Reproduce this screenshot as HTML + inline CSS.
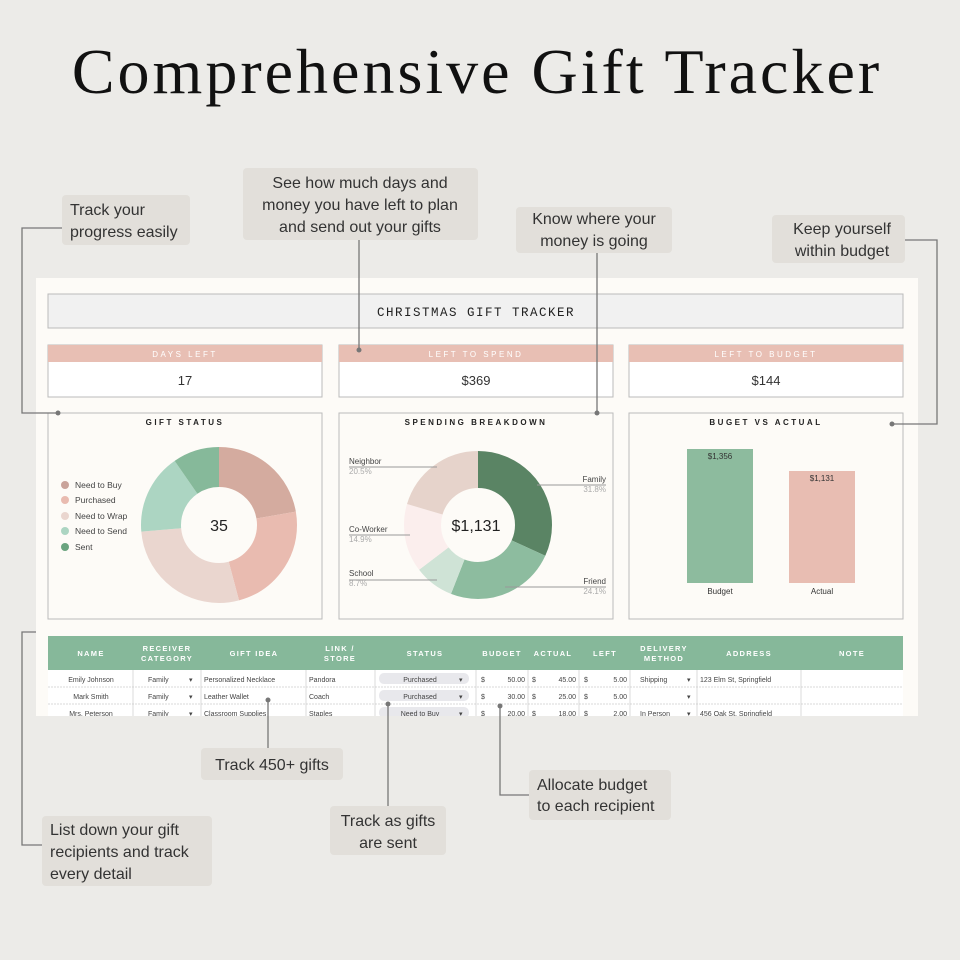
<!DOCTYPE html>
<html><head><meta charset="utf-8"><style>
body{margin:0;width:960px;height:960px;overflow:hidden;background:#ecebe8;}
svg{display:block}
.c{font-family:"Liberation Sans",sans-serif;}
</style></head><body>
<svg width="960" height="960" viewBox="0 0 960 960" class="c">
<rect width="960" height="960" fill="#ecebe8"/>
<text x="477" y="93" text-anchor="middle" font-family="Liberation Serif,serif" font-size="64" letter-spacing="3" fill="#111">Comprehensive Gift Tracker</text>

<!-- panel -->
<rect x="36" y="278" width="882" height="438" fill="#fdfbf7"/>
<rect x="48" y="294" width="855" height="34" fill="#f1f1f1" stroke="#bbb"/>
<text x="476" y="316" text-anchor="middle" font-size="12.5" letter-spacing="1.5" fill="#222" font-family="Liberation Mono,monospace">CHRISTMAS GIFT TRACKER</text>

<g font-size="8" letter-spacing="2.5" fill="#fff" text-anchor="middle">
<rect x="48" y="345" width="274" height="52" fill="#fff" stroke="#bbb"/><rect x="48" y="345" width="274" height="17" fill="#e8bfb4"/>
<text x="185" y="357">DAYS LEFT</text>
<rect x="339" y="345" width="274" height="52" fill="#fff" stroke="#bbb"/><rect x="339" y="345" width="274" height="17" fill="#e8bfb4"/>
<text x="476" y="357">LEFT TO SPEND</text>
<rect x="629" y="345" width="274" height="52" fill="#fff" stroke="#bbb"/><rect x="629" y="345" width="274" height="17" fill="#e8bfb4"/>
<text x="766" y="357">LEFT TO BUDGET</text>
</g>
<g font-size="13" fill="#333" text-anchor="middle">
<text x="185" y="385">17</text><text x="476" y="385">$369</text><text x="766" y="385">$144</text>
</g>

<g fill="#fdfbf7" stroke="#bbb">
<rect x="48" y="413" width="274" height="206"/>
<rect x="339" y="413" width="274" height="206"/>
<rect x="629" y="413" width="274" height="206"/>
</g>
<g font-size="8" letter-spacing="2.5" fill="#222" text-anchor="middle" font-weight="bold">
<text x="185" y="425">GIFT STATUS</text>
<text x="476" y="425">SPENDING BREAKDOWN</text>
<text x="766" y="425">BUGET VS ACTUAL</text>
</g>

<!-- gift status donut -->
<g transform="rotate(-90 219 525)" fill="none" stroke-width="40">
<circle cx="219" cy="525" r="58" stroke="#d4ab9f" stroke-dasharray="81 400" stroke-dashoffset="0"/>
<circle cx="219" cy="525" r="58" stroke="#e9bbb0" stroke-dasharray="86 400" stroke-dashoffset="-81"/>
<circle cx="219" cy="525" r="58" stroke="#ead6cf" stroke-dasharray="101 400" stroke-dashoffset="-167"/>
<circle cx="219" cy="525" r="58" stroke="#acd5c2" stroke-dasharray="61 400" stroke-dashoffset="-268"/>
<circle cx="219" cy="525" r="58" stroke="#86b99a" stroke-dasharray="35.4 400" stroke-dashoffset="-329"/>
</g>
<text x="219" y="531" text-anchor="middle" font-size="16" fill="#222">35</text>
<g font-size="8.5" fill="#444">
<circle cx="65" cy="485" r="4" fill="#c9a39a"/><text x="75" y="488">Need to Buy</text>
<circle cx="65" cy="500" r="4" fill="#e9bbb0"/><text x="75" y="503">Purchased</text>
<circle cx="65" cy="516" r="4" fill="#ead6cf"/><text x="75" y="519">Need to Wrap</text>
<circle cx="65" cy="531" r="4" fill="#acd5c2"/><text x="75" y="534">Need to Send</text>
<circle cx="65" cy="547" r="4" fill="#6aa47f"/><text x="75" y="550">Sent</text>
</g>

<!-- spending donut -->
<g transform="rotate(-90 478 525)" fill="none" stroke-width="37">
<circle cx="478" cy="525" r="55.5" stroke="#5a8464" stroke-dasharray="110.9 400" stroke-dashoffset="0"/>
<circle cx="478" cy="525" r="55.5" stroke="#8dbc9f" stroke-dasharray="84 400" stroke-dashoffset="-110.9"/>
<circle cx="478" cy="525" r="55.5" stroke="#cfe3d6" stroke-dasharray="30.3 400" stroke-dashoffset="-194.9"/>
<circle cx="478" cy="525" r="55.5" stroke="#fbeeed" stroke-dasharray="52 400" stroke-dashoffset="-225.2"/>
<circle cx="478" cy="525" r="55.5" stroke="#e6d3cb" stroke-dasharray="71.5 400" stroke-dashoffset="-277.2"/>
</g>
<text x="476" y="531" text-anchor="middle" font-size="16" fill="#222">$1,131</text>
<g font-size="8" fill="#444" stroke-width="1">
<text x="349" y="464">Neighbor</text><text x="349" y="474" fill="#aaa">20.5%</text>
<line x1="349" y1="467" x2="437" y2="467" stroke="#999"/>
<text x="349" y="532">Co-Worker</text><text x="349" y="542" fill="#aaa">14.9%</text>
<line x1="349" y1="535" x2="410" y2="535" stroke="#999"/>
<text x="349" y="576">School</text><text x="349" y="586" fill="#aaa">8.7%</text>
<line x1="349" y1="580" x2="437" y2="580" stroke="#999"/>
<text x="606" y="482" text-anchor="end">Family</text><text x="606" y="492" fill="#aaa" text-anchor="end">31.8%</text>
<line x1="537" y1="485" x2="606" y2="485" stroke="#999"/>
<text x="606" y="584" text-anchor="end">Friend</text><text x="606" y="594" fill="#aaa" text-anchor="end">24.1%</text>
<line x1="505" y1="587" x2="606" y2="587" stroke="#999"/>
</g>

<!-- bars -->
<rect x="687" y="449" width="66" height="134" fill="#8dbb9e"/>
<rect x="789" y="471" width="66" height="112" fill="#e8bdb2"/>
<g font-size="8" fill="#333" text-anchor="middle">
<text x="720" y="459">$1,356</text><text x="822" y="481">$1,131</text>
<text x="720" y="594">Budget</text><text x="822" y="594">Actual</text>
</g>

<!-- table -->
<rect x="48" y="636" width="855" height="34" fill="#86b89a"/>
<g font-size="7.5" font-weight="bold" fill="#fff" text-anchor="middle" letter-spacing="1.3">
<text x="91" y="656">NAME</text>
<text x="167" y="651">RECEIVER</text><text x="167" y="661">CATEGORY</text>
<text x="254" y="656">GIFT IDEA</text>
<text x="340" y="651">LINK /</text><text x="340" y="661">STORE</text>
<text x="425" y="656">STATUS</text>
<text x="502" y="656">BUDGET</text>
<text x="553" y="656">ACTUAL</text>
<text x="605" y="656">LEFT</text>
<text x="664" y="651">DELIVERY</text><text x="664" y="661">METHOD</text>
<text x="749" y="656">ADDRESS</text>
<text x="852" y="656">NOTE</text>
</g>
<rect x="48" y="670" width="855" height="46" fill="#fff"/>
<g stroke="#ccc" stroke-width="0.7">
<line x1="48" y1="687" x2="903" y2="687" stroke-dasharray="2 1"/><line x1="48" y1="704" x2="903" y2="704" stroke-dasharray="2 1"/>
<line x1="133" y1="670" x2="133" y2="716"/><line x1="201" y1="670" x2="201" y2="716"/><line x1="306" y1="670" x2="306" y2="716"/>
<line x1="375" y1="670" x2="375" y2="716"/><line x1="476" y1="670" x2="476" y2="716"/><line x1="528" y1="670" x2="528" y2="716"/>
<line x1="579" y1="670" x2="579" y2="716"/><line x1="630" y1="670" x2="630" y2="716"/><line x1="697" y1="670" x2="697" y2="716"/>
<line x1="801" y1="670" x2="801" y2="716"/>
</g>
<g fill="#e8e8ec"><rect x="379" y="673" width="90" height="11" rx="5"/><rect x="379" y="690" width="90" height="11" rx="5"/><rect x="379" y="707" width="90" height="11" rx="5"/></g>
<g font-size="7" fill="#444">
<text x="91" y="682" text-anchor="middle">Emily Johnson</text><text x="91" y="699" text-anchor="middle">Mark Smith</text><text x="91" y="716" text-anchor="middle">Mrs. Peterson</text>
<text x="148" y="682">Family</text><text x="148" y="699">Family</text><text x="148" y="716">Family</text>
<text x="189" y="682">▾</text><text x="189" y="699">▾</text><text x="189" y="716">▾</text>
<text x="204" y="682">Personalized Necklace</text><text x="204" y="699">Leather Wallet</text><text x="204" y="716">Classroom Supplies</text>
<text x="309" y="682">Pandora</text><text x="309" y="699">Coach</text><text x="309" y="716">Staples</text>
<text x="420" y="682" text-anchor="middle">Purchased</text><text x="420" y="699" text-anchor="middle">Purchased</text><text x="420" y="716" text-anchor="middle">Need to Buy</text>
<text x="459" y="682">▾</text><text x="459" y="699">▾</text><text x="459" y="716">▾</text>
<text x="481" y="682">$</text><text x="481" y="699">$</text><text x="481" y="716">$</text>
<text x="525" y="682" text-anchor="end">50.00</text><text x="525" y="699" text-anchor="end">30.00</text><text x="525" y="716" text-anchor="end">20.00</text>
<text x="532" y="682">$</text><text x="532" y="699">$</text><text x="532" y="716">$</text>
<text x="576" y="682" text-anchor="end">45.00</text><text x="576" y="699" text-anchor="end">25.00</text><text x="576" y="716" text-anchor="end">18.00</text>
<text x="584" y="682">$</text><text x="584" y="699">$</text><text x="584" y="716">$</text>
<text x="627" y="682" text-anchor="end">5.00</text><text x="627" y="699" text-anchor="end">5.00</text><text x="627" y="716" text-anchor="end">2.00</text>
<text x="640" y="682">Shipping</text><text x="640" y="716">In Person</text>
<text x="687" y="682">▾</text><text x="687" y="699">▾</text><text x="687" y="716">▾</text>
<text x="700" y="682">123 Elm St, Springfield</text><text x="700" y="716">456 Oak St, Springfield</text>
</g>
<rect x="0" y="716" width="960" height="244" fill="#ecebe8"/>

<!-- callout lines -->
<g stroke="#777" stroke-width="1.3" fill="none">
<polyline points="62,228 22,228 22,413 58,413"/>
<line x1="359" y1="240" x2="359" y2="350"/>
<line x1="597" y1="253" x2="597" y2="413"/>
<polyline points="905,240 937,240 937,424 892,424"/>
<line x1="268" y1="748" x2="268" y2="700"/>
<polyline points="529,795 500,795 500,706"/>
<line x1="388" y1="806" x2="388" y2="704"/>
<polyline points="42,845 22,845 22,632 36,632"/>
</g>
<g fill="#777"><circle cx="58" cy="413" r="2.5"/><circle cx="359" cy="350" r="2.5"/><circle cx="597" cy="413" r="2.5"/><circle cx="892" cy="424" r="2.5"/><circle cx="268" cy="700" r="2.5"/><circle cx="500" cy="706" r="2.5"/><circle cx="388" cy="704" r="2.5"/></g>

<!-- callouts -->
<g fill="#e2dfda">
<rect x="62" y="195" width="128" height="50" rx="4"/>
<rect x="243" y="168" width="235" height="72" rx="4"/>
<rect x="516" y="207" width="156" height="46" rx="4"/>
<rect x="772" y="215" width="133" height="48" rx="4"/>
<rect x="201" y="748" width="142" height="32" rx="4"/>
<rect x="529" y="770" width="142" height="50" rx="4"/>
<rect x="330" y="806" width="116" height="49" rx="4"/>
<rect x="42" y="816" width="170" height="70" rx="4"/>
</g>
<g font-size="16" fill="#333">
<text x="70" y="215">Track your</text><text x="70" y="237">progress easily</text>
<g text-anchor="middle"><text x="360" y="188">See how much days and</text><text x="360" y="210">money you have left to plan</text><text x="360" y="232">and send out your gifts</text>
<text x="594" y="224">Know where your</text><text x="594" y="246">money is going</text>
<text x="842" y="234">Keep yourself</text><text x="842" y="256">within budget</text>
<text x="272" y="770">Track 450+ gifts</text>
<text x="388" y="826">Track as gifts</text><text x="388" y="848">are sent</text></g>
<text x="537" y="790">Allocate budget</text><text x="537" y="811">to each recipient</text>
<text x="50" y="835">List down your gift</text><text x="50" y="857">recipients and track</text><text x="50" y="879">every detail</text>
</g>
</svg>
</body></html>
